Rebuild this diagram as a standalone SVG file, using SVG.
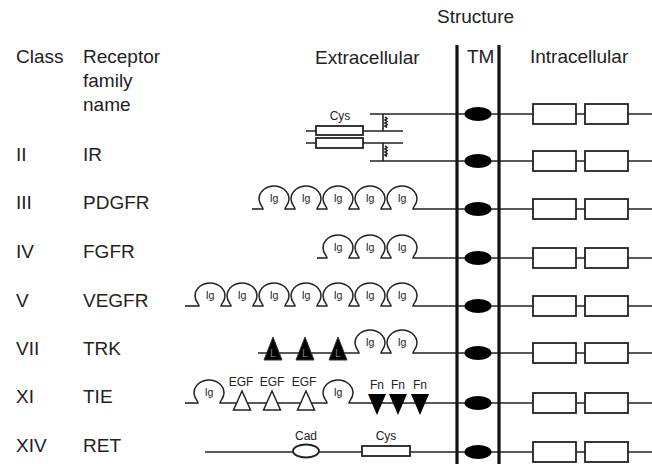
<svg xmlns="http://www.w3.org/2000/svg" xmlns:xlink="http://www.w3.org/1999/xlink" width="652" height="464" viewBox="0 0 652 464">
<style>
.lbl{font-family:"Liberation Sans",Arial,sans-serif;font-size:19px;fill:#222}
.sm{font-family:"Liberation Sans",Arial,sans-serif;font-size:12px;fill:#222;text-anchor:middle}
.ig{font-family:"Liberation Sans",Arial,sans-serif;font-size:10.5px;fill:#222;text-anchor:middle}
.ln{stroke:#222;stroke-width:1.6;fill:none}
.box{fill:#fff;stroke:#222;stroke-width:1.8}
.tm{stroke:#111;stroke-width:3.2}
.blk{fill:#000}
</style>
<defs>
<g id="igd">
<path d="M -16 0 H -11 C -11 -2 -15 -5 -15 -10 A 15 13 0 0 1 15 -10 C 15 -5 11 -2 11 0 H 16" fill="none" stroke="#222" stroke-width="1.5"/>
<text class="ig" x="0" y="-7">Ig</text>
</g>
<g id="tmx">
<ellipse cx="478" cy="0" rx="13.5" ry="7" class="blk"/>
<rect x="533" y="-10" width="43" height="20" class="box"/>
<rect x="585" y="-10" width="43" height="20" class="box"/>
</g>
<g id="ltri">
<polygon points="-9,7 0,-16 9,7" fill="#000" stroke="#333" stroke-width="1"/>
<text x="0" y="4" font-family="Liberation Sans,Arial,sans-serif" font-size="11" fill="#777" text-anchor="middle">L</text>
</g>
<polygon id="etri" points="-8.5,7 0,-12 8.5,7" fill="#fff" stroke="#222" stroke-width="1.5"/>
<polygon id="ftri" points="-9,-9 9,-9 0,12" fill="#000"/>
</defs>
<rect width="652" height="464" fill="#fff"/>

<g id="headers">
<text class="lbl" x="437" y="23">Structure</text>
<text class="lbl" x="16" y="63">Class</text>
<text class="lbl" x="83" y="63">Receptor</text>
<text class="lbl" x="83" y="87">family</text>
<text class="lbl" x="83" y="111">name</text>
<text class="lbl" x="315" y="64">Extracellular</text>
<text class="lbl" x="467" y="63">TM</text>
<text class="lbl" x="530" y="63">Intracellular</text>
</g>

<g id="connectors">
<line class="ln" x1="370" y1="114" x2="652" y2="114"/>
<line class="ln" x1="370" y1="161" x2="652" y2="161"/>
<line class="ln" x1="306" y1="131" x2="403" y2="131"/>
<line class="ln" x1="306" y1="143" x2="403" y2="143"/>
<line class="ln" x1="383" y1="114" x2="383" y2="131"/>
<line class="ln" x1="383" y1="143" x2="383" y2="161"/>
<line class="ln" x1="252" y1="209" x2="258" y2="209"/>
<line class="ln" x1="418" y1="209" x2="652" y2="209"/>
<line class="ln" x1="317" y1="258" x2="322" y2="258"/>
<line class="ln" x1="418" y1="258" x2="652" y2="258"/>
<line class="ln" x1="185" y1="306" x2="194" y2="306"/>
<line class="ln" x1="418" y1="306" x2="652" y2="306"/>
<line class="ln" x1="258" y1="353" x2="354" y2="353"/>
<line class="ln" x1="418" y1="353" x2="652" y2="353"/>
<line class="ln" x1="185" y1="403" x2="193" y2="403"/>
<line class="ln" x1="225" y1="403" x2="322" y2="403"/>
<line class="ln" x1="354" y1="403" x2="652" y2="403"/>
<line class="ln" x1="205" y1="452" x2="652" y2="452"/>
</g>

<g id="membrane">
<line class="tm" x1="457" y1="45" x2="457" y2="464"/>
<line class="tm" x1="499" y1="45" x2="499" y2="464"/>
</g>

<g id="row-IR">
<text class="lbl" x="16" y="161">II</text>
<text class="lbl" x="83" y="161">IR</text>
<rect x="316" y="126" width="47" height="9" class="box" stroke-width="1.4"/>
<rect x="316" y="138" width="47" height="10" class="box" stroke-width="1.4"/>
<text class="sm" x="340" y="120" font-size="11">Cys</text>
<path d="M385 117 l2 1.5 l-2 1.5 l2 1.5 l-2 1.5 l2 1.5 l-2 1.5 l2 1.5" class="ln" stroke-width="1"/>
<path d="M385 146 l2 1.5 l-2 1.5 l2 1.5 l-2 1.5 l2 1.5 l-2 1.5 l2 1.5" class="ln" stroke-width="1"/>
<use xlink:href="#tmx" y="114"/>
<use xlink:href="#tmx" y="161"/>
</g>

<g id="row-PDGFR">
<text class="lbl" x="16" y="209">III</text>
<text class="lbl" x="83" y="209">PDGFR</text>
<use xlink:href="#igd" x="274" y="209"/>
<use xlink:href="#igd" x="306" y="209"/>
<use xlink:href="#igd" x="338" y="209"/>
<use xlink:href="#igd" x="370" y="209"/>
<use xlink:href="#igd" x="402" y="209"/>
<use xlink:href="#tmx" y="209"/>
</g>

<g id="row-FGFR">
<text class="lbl" x="16" y="258">IV</text>
<text class="lbl" x="83" y="258">FGFR</text>
<use xlink:href="#igd" x="338" y="258"/>
<use xlink:href="#igd" x="370" y="258"/>
<use xlink:href="#igd" x="402" y="258"/>
<use xlink:href="#tmx" y="258"/>
</g>

<g id="row-VEGFR">
<text class="lbl" x="16" y="307">V</text>
<text class="lbl" x="83" y="307">VEGFR</text>
<use xlink:href="#igd" x="210" y="306"/>
<use xlink:href="#igd" x="242" y="306"/>
<use xlink:href="#igd" x="274" y="306"/>
<use xlink:href="#igd" x="306" y="306"/>
<use xlink:href="#igd" x="338" y="306"/>
<use xlink:href="#igd" x="370" y="306"/>
<use xlink:href="#igd" x="402" y="306"/>
<use xlink:href="#tmx" y="306"/>
</g>

<g id="row-TRK">
<text class="lbl" x="16" y="355">VII</text>
<text class="lbl" x="83" y="355">TRK</text>
<use xlink:href="#ltri" x="273" y="353"/>
<use xlink:href="#ltri" x="305" y="353"/>
<use xlink:href="#ltri" x="338" y="353"/>
<use xlink:href="#igd" x="370" y="353"/>
<use xlink:href="#igd" x="402" y="353"/>
<use xlink:href="#tmx" y="353"/>
</g>

<g id="row-TIE">
<text class="lbl" x="16" y="403">XI</text>
<text class="lbl" x="83" y="403">TIE</text>
<use xlink:href="#igd" x="209" y="403"/>
<use xlink:href="#etri" x="242" y="403"/>
<use xlink:href="#etri" x="272" y="403"/>
<use xlink:href="#etri" x="306" y="403"/>
<text class="sm" x="241" y="386">EGF</text>
<text class="sm" x="272" y="386">EGF</text>
<text class="sm" x="304" y="386">EGF</text>
<use xlink:href="#igd" x="338" y="403"/>
<use xlink:href="#ftri" x="377" y="403"/>
<use xlink:href="#ftri" x="398" y="403"/>
<use xlink:href="#ftri" x="420" y="403"/>
<text class="sm" x="377" y="389">Fn</text>
<text class="sm" x="398" y="389">Fn</text>
<text class="sm" x="420" y="389">Fn</text>
<use xlink:href="#tmx" y="403"/>
</g>

<g id="row-RET">
<text class="lbl" x="16" y="452">XIV</text>
<text class="lbl" x="83" y="452">RET</text>
<ellipse cx="306" cy="451" rx="13" ry="6.5" class="box" stroke-width="1.5"/>
<text class="sm" x="306" y="440">Cad</text>
<rect x="362" y="446" width="48" height="10" class="box" stroke-width="1.5"/>
<text class="sm" x="386" y="440">Cys</text>
<use xlink:href="#tmx" y="452"/>
</g>
</svg>
